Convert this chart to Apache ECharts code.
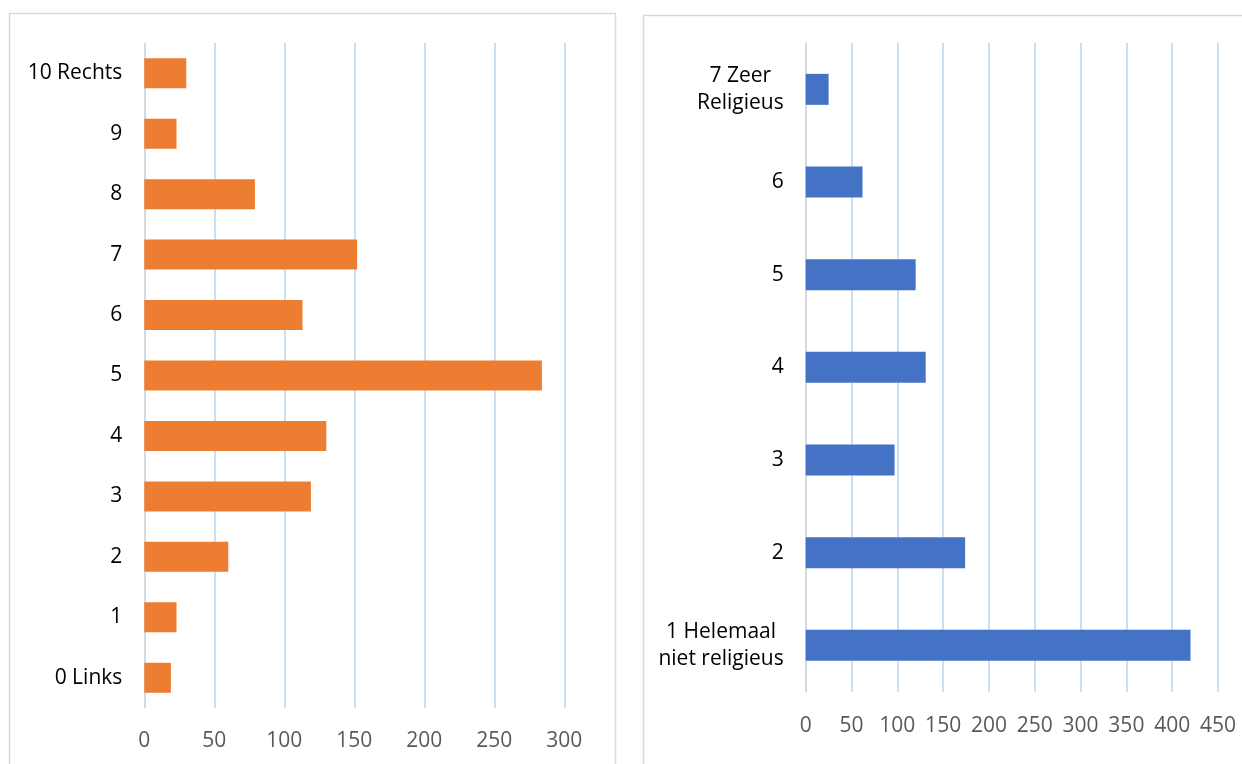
<!DOCTYPE html>
<html>
<head>
<meta charset="utf-8">
<script src="https://cdn.jsdelivr.net/npm/echarts@6/dist/echarts.min.js"></script>
<style>
  html, body { margin: 0; padding: 0; background: #fff; }
  #chart { width: 1242px; height: 764px; }
</style>
</head>
<body>
<div id="chart"></div>
<script>
// Left-right political self-placement (0 = Links .. 10 = Rechts)
const politicsCategories = ['0 Links', '1', '2', '3', '4', '5', '6', '7', '8', '9', '10 Rechts'];
const politicsCounts = [19, 23, 60, 119, 130, 284, 113, 152, 79, 23, 30];
const politicsTicks = { max: 300, interval: 50 };

// Religiosity scale (1 = helemaal niet religieus .. 7 = zeer religieus)
const religionCategories = ['1 Helemaal\nniet religieus', '2', '3', '4', '5', '6', '7 Zeer\nReligieus'];
const religionCounts = [420, 174, 97, 131, 120, 62, 25];
const religionTicks = { max: 450, interval: 50 };

const FONT = '"Open Sans", "Noto Sans", sans-serif';
const chart = echarts.init(document.getElementById('chart'), null, { renderer: 'canvas' });

// Each category label is a block right-aligned to the axis, its lines centered within it.
function centeredLines(value) {
  return value.split('\n').map(line => '{c|' + line + '}').join('\n');
}

function categoryAxis(gridIndex, data) {
  return {
    type: 'category',
    gridIndex: gridIndex,
    data: data,
    axisLine: { show: true, lineStyle: { color: '#d9d9d9', width: 1.5 } },
    axisTick: { show: false },
    axisLabel: {
      margin: 22,
      formatter: centeredLines,
      rich: {
        c: { align: 'center', fontFamily: FONT, fontSize: 21, color: '#000', lineHeight: 27 }
      }
    },
    splitLine: { show: false }
  };
}

function valueAxis(gridIndex, ticks, margin) {
  return {
    type: 'value',
    gridIndex: gridIndex,
    min: 0,
    max: ticks.max,
    interval: ticks.interval,
    axisLine: { show: false },
    axisTick: { show: false },
    axisLabel: { margin: margin, fontFamily: FONT, fontSize: 21, color: '#595959' },
    splitLine: { show: true, lineStyle: { color: '#b9d5ee', width: 1.5 } }
  };
}

chart.setOption({
  animation: false,
  backgroundColor: '#fff',
  graphic: [
    { type: 'rect', shape: { x: 9.5, y: 13.5, width: 606, height: 800 },
      style: { fill: 'none', stroke: '#d9d9d9', lineWidth: 1.5 }, z: -1 },
    { type: 'rect', shape: { x: 643.5, y: 15.5, width: 700, height: 800 },
      style: { fill: 'none', stroke: '#d9d9d9', lineWidth: 1.5 }, z: -1 }
  ],
  grid: [
    { left: 144.3, right: 677.7, top: 43, bottom: 56, containLabel: false },
    { left: 805.7, right: 24, top: 43, bottom: 72.3, containLabel: false }
  ],
  xAxis: [valueAxis(0, politicsTicks, 23), valueAxis(1, religionTicks, 24)],
  yAxis: [categoryAxis(0, politicsCategories), categoryAxis(1, religionCategories)],
  series: [
    {
      type: 'bar', xAxisIndex: 0, yAxisIndex: 0,
      data: politicsCounts, barWidth: 30,
      itemStyle: { color: '#ED7D31' }
    },
    {
      type: 'bar', xAxisIndex: 1, yAxisIndex: 1,
      data: religionCounts, barWidth: 31,
      itemStyle: { color: '#4472C4' }
    }
  ]
});
</script>
</body>
</html>
